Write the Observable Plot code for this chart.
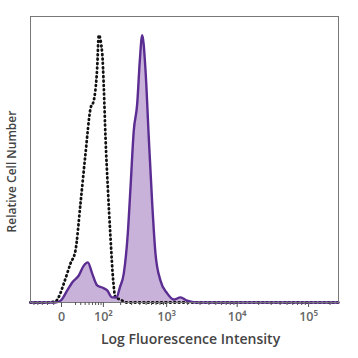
<!DOCTYPE html>
<html>
<head>
<meta charset="utf-8">
<script src="https://cdn.jsdelivr.net/npm/d3@7"></script>
<script src="https://cdn.jsdelivr.net/npm/@observablehq/plot@0.6"></script>
<style>
  html, body { margin: 0; padding: 0; background: #fff; }
  #chart { width: 358px; height: 358px; }
</style>
</head>
<body>
<div id="chart"></div>
<script>
// Stained sample (filled purple histogram): intensity vs relative count (peak = 100)
const stainedX = [-60, -7.5, -1, 7.1, 14.4, 26.1, 36.8, 46.7, 59.1, 75.5, 94.8, 117.5, 144, 171, 194, 225, 261, 288, 324, 366, 401, 436, 489, 547, 615, 687, 813, 1018, 1268, 1581, 1970, 2600, 262144];
const stainedY = [0, 0, 0.7, 4.5, 7.5, 10.1, 13.8, 15.0, 10.8, 6.4, 5.6, 4.5, 1.9, 1.9, 5.6, 10.8, 25.8, 43.0, 64.3, 74.4, 90.5, 100, 86.8, 61.7, 37.0, 18.3, 8.2, 3.4, 1.1, 1.9, 0.7, 0, 0];

// Isotype control (dashed black histogram)
const controlX = [-60, -23.6, -7.5, -3.5, 2.7, 11.8, 19.9, 29.5, 40.8, 54.1, 64.1, 75.5, 81.3, 94.8, 101.7, 109.4, 120.5, 134.6, 150, 164, 199, 250, 262144];
const controlY = [0, 0, 0.4, 1.9, 7.1, 14.6, 19.5, 37.0, 55.7, 72.6, 75.6, 87.9, 100, 93.2, 80.4, 61.7, 43.0, 24.3, 8.2, 1.9, 1.1, 0, 0];

// Axis ticks
const majorTicks = [0, 100, 1000, 10000, 100000];
const majorLabels = ["0", "10\u00B2", "10\u00B3", "10\u2074", "10\u2075"];
const minorTicks = [-50, -40, -30, -20, -10, 20, 30, 40, 50, 60, 70, 80, 90,
  200, 300, 400, 500, 600, 700, 800, 900,
  2000, 3000, 4000, 5000, 6000, 7000, 8000, 9000,
  20000, 30000, 40000, 50000, 60000, 70000, 80000, 90000, 200000];

const xTitle = "Log Fluorescence Intensity";
const yTitle = "Relative Cell Number";

const stained = stainedX.map((x, i) => ({x, y: stainedY[i]}));
const control = controlX.map((x, i) => ({x, y: controlY[i]}));

const chart = Plot.plot({
  width: 358,
  height: 358,
  marginLeft: 30,
  marginRight: 20,
  marginTop: 16,
  marginBottom: 56,
  style: {fontFamily: "'Open Sans', sans-serif", background: "#fff"},
  x: {type: "symlog", constant: 35, domain: [-60, 262144]},
  y: {domain: [0, 107], axis: null},
  marks: [
    Plot.areaY(stained, {x: "x", y: "y", fill: "#c9b2d9", curve: "monotone-x"}),
    Plot.lineY(control, {x: "x", y: "y", stroke: "#111", strokeWidth: 2.8, strokeDasharray: "0.8,3.6", strokeLinecap: "round", curve: "monotone-x"}),
    Plot.lineY(stained, {x: "x", y: "y", stroke: "#5b2d92", strokeWidth: 2.4, curve: "monotone-x"}),
    Plot.frame({stroke: "#777", strokeWidth: 1}),
    Plot.ruleX(minorTicks, {x: (d) => d, y1: 0, y2: 0, insetBottom: -3, stroke: "#555"}),
    Plot.axisX({ticks: majorTicks, tickSize: 5, tickPadding: 5, stroke: "#555",
      tickFormat: (d) => majorLabels[majorTicks.indexOf(d)], fontSize: 12.5, fontWeight: "600", fill: "#666", label: null}),
    Plot.text([xTitle], {frameAnchor: "bottom", dy: 41, dx: 6, fontSize: 14, fontWeight: "600", fill: "#444"}),
    Plot.text([yTitle], {frameAnchor: "left", textAnchor: "middle", rotate: -90, dx: -18, dy: 12, fontSize: 12, fontWeight: "600", fill: "#444"})
  ]
});
document.getElementById("chart").appendChild(chart);
</script>
</body>
</html>
